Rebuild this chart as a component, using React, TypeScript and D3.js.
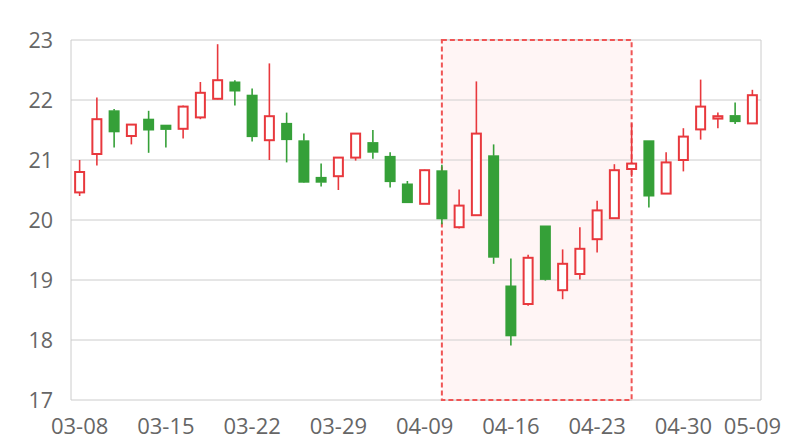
import React from 'react';
import * as d3 from 'd3';

const dates = [
  '03-08', '03-11', '03-12', '03-13', '03-14', '03-15', '03-18', '03-19', '03-20', '03-21',
  '03-22', '03-25', '03-26', '03-27', '03-28', '03-29', '04-01', '04-02', '04-03', '04-08',
  '04-09', '04-10', '04-11', '04-12', '04-15', '04-16', '04-17', '04-18', '04-19', '04-22',
  '04-23', '04-24', '04-25', '04-26', '04-29', '04-30', '05-06', '05-07', '05-08', '05-09',
];
const opens = [
  20.46, 21.10, 21.82, 21.40, 21.68, 21.58, 21.52, 21.71, 22.02, 22.30,
  22.08, 21.33, 21.61, 21.32, 20.71, 20.73, 21.04, 21.29, 21.06, 20.60,
  20.27, 20.82, 19.88, 20.08, 21.07, 18.90, 18.60, 19.90, 18.83, 19.10,
  19.68, 20.03, 20.85, 21.32, 20.44, 21.00, 21.51, 21.69, 21.74, 21.61,
];
const closes = [
  20.80, 21.68, 21.47, 21.59, 21.50, 21.51, 21.89, 22.12, 22.33, 22.15,
  21.39, 21.73, 21.34, 20.63, 20.63, 21.04, 21.44, 21.13, 20.64, 20.29,
  20.83, 20.02, 20.24, 21.44, 19.38, 18.07, 19.37, 19.01, 19.27, 19.52,
  20.16, 20.83, 20.94, 20.40, 20.96, 21.39, 21.89, 21.73, 21.64, 22.08,
];
const highs = [
  21.00, 22.04, 21.85, 21.60, 21.82, 21.58, 21.91, 22.30, 22.93, 22.33,
  22.19, 22.61, 21.79, 21.44, 20.94, 21.04, 21.44, 21.50, 21.13, 20.65,
  20.84, 20.92, 20.51, 22.31, 21.26, 19.36, 19.42, 19.90, 19.51, 19.88,
  20.32, 20.93, 21.61, 21.32, 21.13, 21.53, 22.34, 21.79, 21.96, 22.17,
];
const lows = [
  20.40, 20.91, 21.21, 21.26, 21.12, 21.21, 21.36, 21.68, 22.01, 21.91,
  21.31, 21.00, 20.96, 20.62, 20.56, 20.50, 20.99, 21.02, 20.54, 20.29,
  20.27, 19.93, 19.86, 20.08, 19.27, 17.91, 18.57, 18.99, 18.68, 19.01,
  19.46, 20.03, 20.72, 20.21, 20.44, 20.81, 21.34, 21.53, 21.60, 21.61,
];
const yTicks = [17, 18, 19, 20, 21, 22, 23];
const xTickLabels = ['03-08', '03-15', '03-22', '03-29', '04-09', '04-16', '04-23', '04-30', '05-09'];
const markAreaRange = ['04-10', '04-25'];

const UP = '#e8383d';
const DOWN = '#35a038';
const FONT = '"Open Sans", "Noto Sans", sans-serif';

export default function App() {
  const width = 800;
  const height = 440;
  const left = 71;
  const right = 761;
  const top = 40;
  const bottom = 400;

  const x = d3.scaleBand<string>().domain(dates).range([left, right]).padding(0);
  const y = d3.scaleLinear().domain([17, 23]).range([bottom, top]);
  const bw = x.bandwidth();
  const cx = (d: string) => (x(d) as number) + bw / 2;
  const boxW = 11;

  const ma0 = cx(markAreaRange[0]);
  const ma1 = cx(markAreaRange[1]);

  return (
    <svg width={width} height={height} style={{ position: 'absolute', left: 0, top: 0 }}>
      <rect x={0} y={0} width={width} height={height} fill="#fff" />
      {yTicks.map((t) => (
        <line key={'g' + t} x1={left} x2={right} y1={y(t)} y2={y(t)} stroke="#cccccc" strokeWidth={1} />
      ))}
      <line x1={left} x2={left} y1={top} y2={bottom} stroke="#cccccc" strokeWidth={1} />
      <line x1={right} x2={right} y1={top} y2={bottom} stroke="#cccccc" strokeWidth={1} />
      <rect x={ma0} y={y(23)} width={ma1 - ma0} height={y(17) - y(23)} fill="#fff5f5" />
      {yTicks.map((t) => (
        <line key={'g2' + t} x1={ma0} x2={ma1} y1={y(t)} y2={y(t)} stroke="#cccccc" strokeWidth={1} opacity={0.9} />
      ))}
      <rect
        x={ma0}
        y={y(23)}
        width={ma1 - ma0}
        height={y(17) - y(23)}
        fill="none"
        stroke="#f05555"
        strokeWidth={2}
        strokeDasharray="5,3"
      />
      {dates.map((d, i) => {
        const o = opens[i];
        const c = closes[i];
        const up = c >= o;
        const col = up ? UP : DOWN;
        const xc = cx(d);
        const yTop = y(Math.max(o, c));
        const yBot = y(Math.min(o, c));
        return (
          <g key={d}>
            <line x1={xc} x2={xc} y1={y(highs[i])} y2={yTop} stroke={col} strokeWidth={1.6} />
            <line x1={xc} x2={xc} y1={yBot} y2={y(lows[i])} stroke={col} strokeWidth={1.6} />
            {up ? (
              <rect
                x={xc - boxW / 2 + 1}
                y={yTop}
                width={boxW - 2}
                height={Math.max(yBot - yTop, 1)}
                fill="#fff"
                stroke={col}
                strokeWidth={2}
              />
            ) : (
              <rect
                x={xc - boxW / 2}
                y={yTop - 0.5}
                width={boxW}
                height={Math.max(yBot - yTop + 1, 2)}
                fill={col}
              />
            )}
          </g>
        );
      })}
      {yTicks.map((t) => (
        <text
          key={'yl' + t}
          x={53}
          y={y(t)}
          dy="0.36em"
          textAnchor="end"
          fontFamily={FONT}
          fontSize={21.5}
          fill="#666666"
        >
          {t}
        </text>
      ))}
      {xTickLabels.map((d) => (
        <text
          key={'xl' + d}
          x={cx(d)}
          y={434}
          textAnchor="middle"
          fontFamily={FONT}
          fontSize={22}
          fill="#666666"
        >
          {d}
        </text>
      ))}
    </svg>
  );
}
